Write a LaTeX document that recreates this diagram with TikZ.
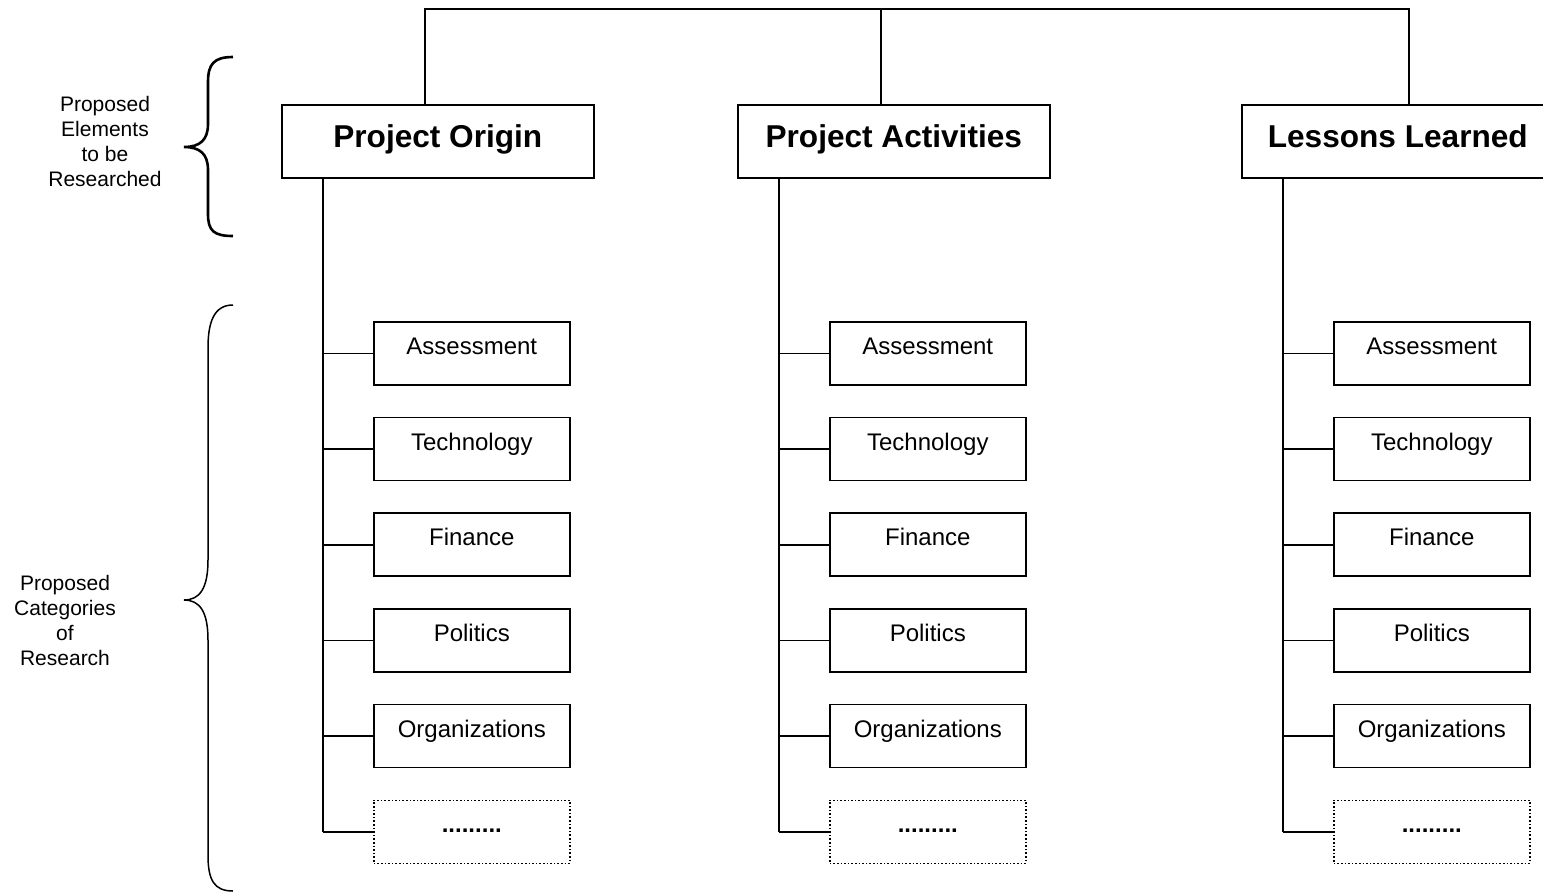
\documentclass[tikz,border=0pt]{standalone}
\usepackage{fontspec}
\setmainfont{Liberation Sans}
\usetikzlibrary{positioning,calc}
\tikzstyle{head} = [draw,line width=1.6pt,minimum width=312pt,minimum height=73pt,
                    inner sep=0,text height=23pt,text depth=10pt,
                    font=\fontsize{31.6}{36}\selectfont\bfseries]
\tikzstyle{item} = [draw,line width=1.6pt,minimum width=196pt,minimum height=63pt,
                    inner sep=0,text height=17pt,text depth=15pt,
                    font=\fontsize{24}{28}\selectfont]
\tikzstyle{more} = [item,dotted,line width=1.4pt]
\tikzstyle{side} = [align=center,font=\fontsize{21}{25}\selectfont]
\tikzstyle{wire} = [line width=1.6pt]

\begin{document}
\begin{tikzpicture}[x=1pt,y=-1pt,node distance=31.1pt]
  \useasboundingbox (0,0) rectangle (1543,895);

  % proposed elements
  \node[head,anchor=north west] (orig) at (281,104) {Project Origin};
  \node[head,anchor=north west] (act)  at (737,104) {Project Activities};
  \node[head,anchor=north west] (less) at (1241,104) {Lessons Learned};

  \coordinate (top1) at (425,9);
  \coordinate (top2) at (881,9);
  \coordinate (top3) at (1409,9);
  \draw[wire] (top1 |- orig.north) -- (top1) -- (top3) -- (top3 |- less.north);
  \draw[wire] (top2) -- (top2 |- act.north);

  % categories under each element
  \foreach \h in {orig,act,less} {
    \coordinate (\h s) at ([xshift=42pt]\h.south west);
    \node[item,anchor=north west] (\h1) at ([xshift=92pt,yshift=-142.4pt]\h.south west) {Assessment};
    \node[item,below=of \h1] (\h2) {Technology};
    \node[item,below=of \h2] (\h3) {Finance};
    \node[item,below=of \h3] (\h4) {Politics};
    \node[item,below=of \h4] (\h5) {Organizations};
    \node[more,below=of \h5] (\h6) {\textbf{.........}};
    \foreach \i in {1,...,6}
      \draw[wire] (\h\i.west) -- (\h s |- \h\i.west);
    \draw[wire] (\h s) -- (\h s |- \h6.west);
  }

  % braces and their labels
  \draw[line width=2.6pt] (233,57) .. controls (214,57) and (208,64) .. (208,82)
    -- (208,124) .. controls (208,140) and (200,147) .. (184,147)
    .. controls (200,147) and (208,154) .. (208,170)
    -- (208,214) .. controls (208,231) and (214,236) .. (233,236);
  \node[side] (elem) at (105,141) {Proposed\\Elements\\to be\\Researched};

  \draw[line width=1.5pt] (233,305) .. controls (214,305) and (208,322) .. (208,348)
    -- (208,560) .. controls (208,588) and (200,600) .. (184,600)
    .. controls (200,600) and (208,612) .. (208,640)
    -- (208,855) .. controls (208,880) and (214,891) .. (233,891);
  \node[side] (cat) at (65,620) {Proposed\\Categories\\of\\Research};
\end{tikzpicture}
\end{document}
